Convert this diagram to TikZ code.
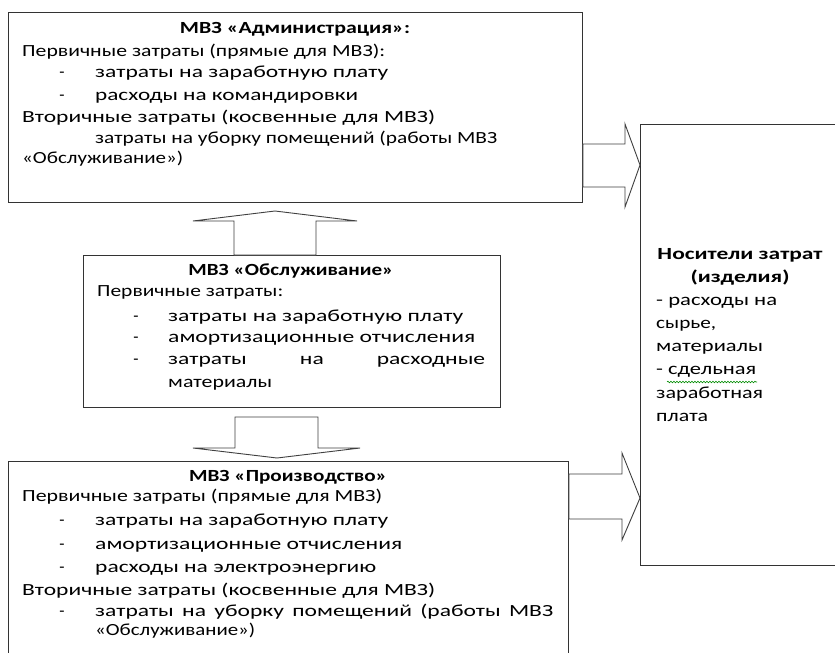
\documentclass[tikz,border=0pt]{standalone}
\usepackage{fontspec}
\usepackage{graphicx}
\setmainfont{Carlito}
\usetikzlibrary{calc,decorations.pathmorphing}

% one text line stretched to a given width (in pt)
\newcommand{\fitline}[2]{\resizebox{#1pt}{\height}{#2}}
% a justified line: glyphs stretched like the other lines, spaces filled
\newlength{\natwidth}
\newcommand{\justline}[2]{%
  \pgfmathsetmacro{\innerw}{#1/\xstretch}%
  \scalebox{\xstretch}[1]{\hbox to \innerw pt{#2}}}

\begin{document}
\settowidth{\natwidth}{\fontsize{17}{20}\selectfont затраты на заработную плату}
\pgfmathsetmacro{\xstretch}{293/\natwidth}
\begin{tikzpicture}[x=1pt,y=-1pt,
  box/.style={draw=black!80, line width=0.9pt, fill=white, inner sep=0pt, anchor=north west},
  blockarrow/.style={draw=black!75, line width=0.9pt, fill=white, line join=miter},
  txt/.style={anchor=mid west, inner sep=0pt, font=\fontsize{17}{20}\selectfont},
  ttl/.style={anchor=mid, inner sep=0pt, font=\fontsize{17}{20}\selectfont\bfseries},
  dashmark/.style={anchor=mid, inner sep=0pt, font=\fontsize{17}{20}\selectfont},
  spell/.style={draw=green!55!black, line width=0.6pt, decorate,
    decoration={snake, amplitude=0.8pt, segment length=3pt}}]

\useasboundingbox (0,0) rectangle (835,653);
\clip (0,0) rectangle (835,653);
\fill[white] (0,0) rectangle (835,653);

% cost centres and cost carriers
\node[box, minimum width=574pt, minimum height=190pt] (adm)  at (8,12)   {};
\node[box, minimum width=417pt, minimum height=152pt] (serv) at (83,255)  {};
\node[box, minimum width=560pt, minimum height=230pt] (prod) at (8,461)  {};
\node[box, minimum width=230pt, minimum height=441pt] (carr) at (640,124) {};

% block arrows
\draw[blockarrow] (234,0 |- serv.north) -- (234,221) -- (193,221) -- (275,211)
  -- (357,221) -- (316,221) -- (316,0 |- serv.north) -- cycle;
\draw[blockarrow] (235,417) -- (318,417) -- (318,448) -- (360,448) -- (277,458)
  -- (193,448) -- (235,448) -- cycle;
\draw[blockarrow] (adm.east |- 0,144) -- (625,144) -- (625,124) -- (carr.west |- 0,165)
  -- (625,207) -- (625,187) -- (adm.east |- 0,187) -- cycle;
\draw[blockarrow] (prod.east |- 0,474) -- (622,474) -- (622,453) -- (carr.west |- 0,498)
  -- (622,540) -- (622,519) -- (prod.east |- 0,519) -- cycle;

% administration
\node[ttl] (t0) at (295,31) {\fitline{230}{МВЗ «Администрация»:}};
\node[txt] (t1) at (22,54) {\fitline{363}{Первичные затраты (прямые для МВЗ):}};
\node[dashmark] (t2d) at (62,75) {-};
\node[txt] (t2) at (95,75) {\fitline{293}{затраты на заработную плату}};
\node[dashmark] (t3d) at (62,98) {-};
\node[txt] (t3) at (95,98) {\fitline{263}{расходы на командировки}};
\node[txt] (t4) at (22,120) {\fitline{413}{Вторичные затраты (косвенные для МВЗ)}};
\node[txt] (t5) at (95,141) {\fitline{402}{затраты на уборку помещений (работы МВЗ}};
\node[txt] (t6) at (22,161) {\fitline{161}{«Обслуживание»)}};

% service
\node[ttl] (m0) at (291,273) {\fitline{205}{МВЗ «Обслуживание»}};
\node[txt] (m1) at (97,294) {\fitline{186}{Первичные затраты:}};
\node[dashmark] (m2d) at (136,319) {-};
\node[txt] (m2) at (168,319) {\fitline{295}{затраты на заработную плату}};
\node[dashmark] (m3d) at (136,340) {-};
\node[txt] (m3) at (168,340) {\fitline{307}{амортизационные отчисления}};
\node[dashmark] (m4d) at (136,362) {-};
\node[txt] (m4) at (168,362) {\justline{317}{затраты\hfill на\hfill расходные}};
\node[txt] (m5) at (168,385) {\fitline{104}{материалы}};

% production
\node[ttl] (b0) at (288,479) {\fitline{198}{МВЗ «Производство»}};
\node[txt] (b1) at (22,499) {\fitline{360}{Первичные затраты (прямые для МВЗ)}};
\node[dashmark] (b2d) at (62,523) {-};
\node[txt] (b2) at (95,523) {\fitline{293}{затраты на заработную плату}};
\node[dashmark] (b3d) at (62,547) {-};
\node[txt] (b3) at (95,547) {\fitline{307}{амортизационные отчисления}};
\node[dashmark] (b4d) at (62,570) {-};
\node[txt] (b4) at (95,570) {\fitline{281}{расходы на электроэнергию}};
\node[txt] (b5) at (22,593) {\fitline{413}{Вторичные затраты (косвенные для МВЗ)}};
\node[dashmark] (b6d) at (62,614) {-};
\node[txt] (b6) at (95,614) {\justline{458}{затраты\hfill на\hfill уборку\hfill помещений\hfill (работы\hfill МВЗ}};
\node[txt] (b7) at (95,633) {\fitline{160}{«Обслуживание»)}};

% cost carriers
\node[ttl] (r0) at (740,257) {\fitline{165}{Носители затрат}};
\node[ttl] (r1) at (740,280) {\fitline{99}{(изделия)}};
\node[txt] (r2) at (656,303) {\fitline{121}{- расходы на}};
\node[txt] (r3) at (656,326) {\fitline{60}{сырье,}};
\node[txt] (r4) at (656,349) {\fitline{107}{материалы}};
\node[txt] (r5) at (656,372) {\fitline{100}{- сдельная}};
\node[txt] (r6) at (656,396) {\fitline{107}{заработная}};
\node[txt] (r7) at (656,419) {\fitline{52}{плата}};
\draw[spell] (667,382) -- (757,382);

\end{tikzpicture}
\end{document}
